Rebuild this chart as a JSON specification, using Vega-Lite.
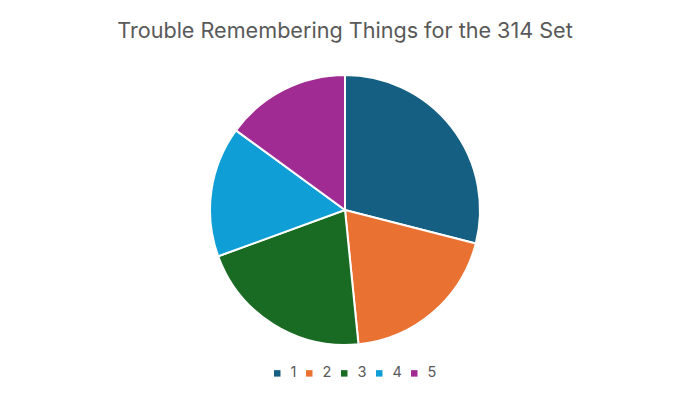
{
  "$schema": "https://vega.github.io/schema/vega-lite/v6.json",
  "autosize": {"type": "none"},
  "width": 270,
  "height": 270,
  "padding": {"left": 210, "top": 75, "right": 195, "bottom": 63},
  "background": "white",
  "title": {
    "text": "Trouble Remembering Things for the 314 Set",
    "font": "Inter",
    "fontSize": 21.6,
    "fontWeight": "normal",
    "color": "#595959",
    "anchor": "middle",
    "offset": 28
  },
  "data": {
    "values": [
      {"category": "1", "count": 91},
      {"category": "2", "count": 61},
      {"category": "3", "count": 66},
      {"category": "4", "count": 49},
      {"category": "5", "count": 47}
    ]
  },
  "mark": {"type": "arc", "stroke": "white", "strokeWidth": 2},
  "encoding": {
    "theta": {"field": "count", "type": "quantitative", "stack": true},
    "order": {"field": "category", "type": "ordinal"},
    "color": {
      "field": "category",
      "type": "nominal",
      "scale": {
        "domain": ["1", "2", "3", "4", "5"],
        "range": ["#156082", "#E97132", "#196B24", "#0F9ED5", "#A02B93"]
      },
      "legend": {
        "orient": "none",
        "legendX": 60,
        "legendY": 291,
        "direction": "horizontal",
        "title": null,
        "symbolType": "square",
        "symbolSize": 42,
        "symbolStrokeWidth": 0,
        "labelFont": "Inter",
        "labelFontSize": 14.5,
        "labelColor": "#595959",
        "labelOffset": 6,
        "columnPadding": 5
      }
    }
  },
  "config": {"view": {"stroke": null}}
}
